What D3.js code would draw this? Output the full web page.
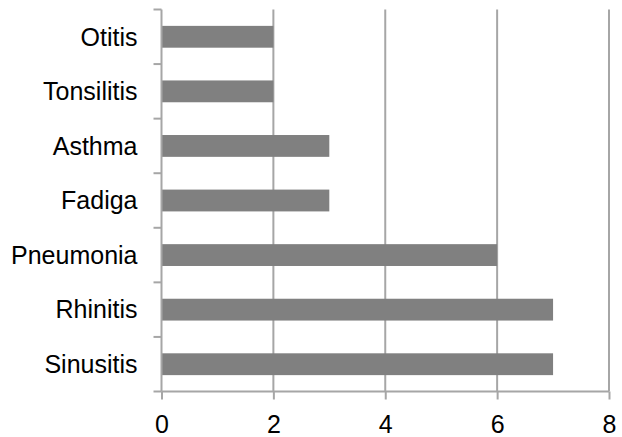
<!DOCTYPE html>
<html>
<head>
<meta charset="utf-8">
<script src="https://cdn.jsdelivr.net/npm/d3@7"></script>
<style>
body { margin: 0; background: #fff; }
</style>
</head>
<body>
<svg id="drawing_region"></svg>
<script>
const categories = ["Otitis", "Tonsilitis", "Asthma", "Fadiga", "Pneumonia", "Rhinitis", "Sinusitis"];
const values = [2, 2, 3, 3, 6, 7, 7];
const xTicks = [0, 2, 4, 6, 8];

const width = 622, height = 437;
const margin = {top: 9.5, right: 13, bottom: 45.5, left: 161.5};
const inner_width = width - margin.left - margin.right;
const inner_height = height - margin.top - margin.bottom;

const svg = d3.select('#drawing_region')
  .attr('width', width)
  .attr('height', height);

const chart = svg.append('g')
  .attr('transform', `translate(${margin.left}, ${margin.top})`);

const xscale = d3.scaleLinear().domain([0, 8]).range([0, inner_width]);
const yscale = d3.scaleBand().domain(categories).range([0, inner_height]).paddingInner(0.6).paddingOuter(0.3);

const lineColor = '#a6a6a6';
const font = 'Liberation Sans, Arial, sans-serif';

// vertical grid lines
chart.selectAll('.grid')
  .data(xTicks.slice(1))
  .enter()
  .append('line')
  .attr('x1', d => xscale(d))
  .attr('x2', d => xscale(d))
  .attr('y1', 0)
  .attr('y2', inner_height)
  .attr('stroke', lineColor)
  .attr('stroke-width', 2);

// bars
chart.selectAll('rect')
  .data(values)
  .enter()
  .append('rect')
  .attr('x', xscale(0))
  .attr('y', (d, i) => yscale(categories[i]))
  .attr('width', d => xscale(d) - xscale(0))
  .attr('height', yscale.bandwidth())
  .attr('fill', '#808080');

// x axis
const xaxis = d3.axisBottom(xscale).tickValues(xTicks).tickSize(8).tickPadding(16);
const xg = chart.append('g')
  .attr('transform', `translate(0, ${inner_height})`)
  .call(xaxis);
xg.select('.domain').attr('stroke', lineColor).attr('stroke-width', 2).attr('d', `M0,0H${inner_width}`);
xg.selectAll('.tick line').attr('stroke', lineColor).attr('stroke-width', 2);
xg.selectAll('.tick text')
  .attr('fill', '#000')
  .attr('font-family', font)
  .attr('font-size', 25);

// y axis: category boundaries as ticks
const bounds = d3.range(categories.length + 1).map(i => i * inner_height / categories.length);
const yg = chart.append('g');
yg.append('line')
  .attr('x1', 0).attr('x2', 0)
  .attr('y1', 0).attr('y2', inner_height)
  .attr('stroke', lineColor).attr('stroke-width', 2);
yg.selectAll('.ytick')
  .data(bounds)
  .enter()
  .append('line')
  .attr('x1', -8).attr('x2', 0)
  .attr('y1', d => d).attr('y2', d => d)
  .attr('stroke', lineColor).attr('stroke-width', 2);

yg.selectAll('text')
  .data(categories)
  .enter()
  .append('text')
  .attr('x', -24)
  .attr('y', d => yscale(d) + yscale.bandwidth() / 2)
  .attr('dy', '0.35em')
  .attr('text-anchor', 'end')
  .attr('font-family', font)
  .attr('font-size', 25)
  .attr('fill', '#000')
  .text(d => d);
</script>
</body>
</html>
